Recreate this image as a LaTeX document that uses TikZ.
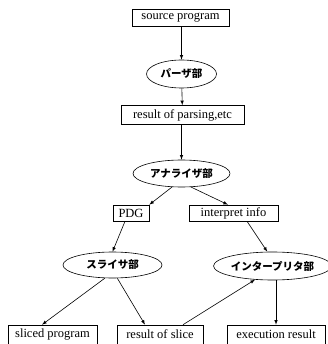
\documentclass[tikz,border=0pt]{standalone}
\usepackage{fontspec}
\setmainfont{Liberation Serif}
\newfontfamily\jpfont{Noto Sans CJK JP}
\usetikzlibrary{arrows,shapes.geometric,positioning}
\tikzset{
    data/.style={rectangle,
            draw,
            semithick,
            inner xsep=5pt,
            inner ysep=0pt,
            minimum height=17pt,
            font=\fontsize{12.5}{13}\selectfont},
    unit/.style={ellipse,
            draw,
            semithick,
            inner sep=0pt,
            font=\jpfont\bfseries\fontsize{10.5}{11}\selectfont},
    flow/.style={->,>=latex,semithick},
}

\begin{document}
\begin{tikzpicture}[x=1pt,y=-1pt]
\useasboundingbox (0,0) rectangle (327,344);
\node[data,minimum width=97pt] (src) at (180.5,18) {source program};
\node[unit,minimum width=70pt,minimum height=28pt] (parser) at (181.5,74) {パーザ部};
\node[data,minimum width=123pt,minimum height=19pt] (parsed) at (182.5,115) {result of parsing,etc};
\node[unit,minimum width=97pt,minimum height=27pt] (analyzer) at (181.5,173.5) {アナライザ部};
\node[data,minimum width=36pt,minimum height=16pt] (pdg) at (131,213) {PDG};
\node[data,minimum width=89pt,minimum height=16pt] (info) at (233.5,213) {interpret info};
\node[unit,minimum width=99pt,minimum height=26pt] (slicer) at (112.5,265) {スライサ部};
\node[unit,minimum width=105pt,minimum height=28pt] (interp) at (272.5,266) {インタープリタ部};
\node[data,minimum width=89pt,minimum height=19pt] (sliced) at (52.5,334.5) {sliced program};
\node[data,minimum width=86pt,minimum height=19pt] (slice) at (160,334.5) {result of slice};
\node[data,minimum width=98pt,minimum height=19pt] (exec) at (276,334.5) {execution result};

\draw[flow] (src.south -| parser.north) -- (parser.north);
\draw[flow] (parser) -- (parsed);
\draw[flow] (parsed.south -| analyzer.north) -- (analyzer.north);
\draw[flow] (analyzer.235) -- (pdg.north east);
\draw[flow] (analyzer.305) -- (info.north -| 228,0);
\draw[flow] (pdg.south -| 125,0) -- (slicer.north);
\draw[flow] (info.south -| 247,0) -- (interp.110);
\draw[flow] (slicer.240) -- (sliced.north -| 42,0);
\draw[flow] (slicer.290) -- (slice.north -| 145,0);
\draw[flow] (slice.north -| 183,0) -- (interp.218);
\draw[flow] (interp.south -| exec.north) -- (exec.north);
\end{tikzpicture}
\end{document}
